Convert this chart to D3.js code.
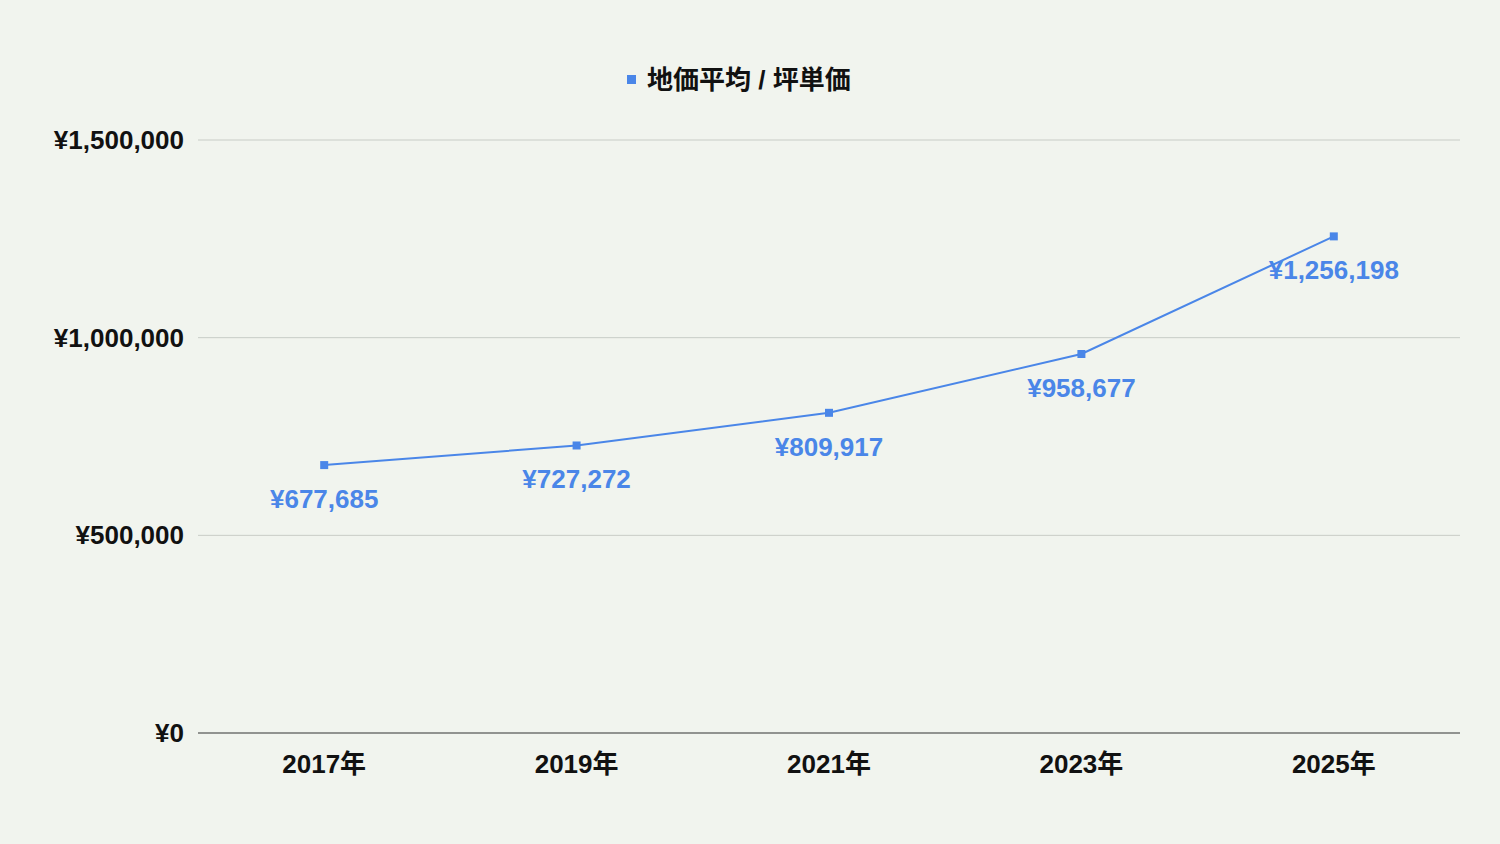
<!DOCTYPE html>
<html><head><meta charset="utf-8">
<script src="https://cdn.jsdelivr.net/npm/d3@7"></script>
<style>
body{margin:0;background:#f1f4ee;}
text{font-family:"Liberation Sans",Arial,"Noto Sans CJK JP",sans-serif;font-weight:bold;}
</style></head><body>
<script>
var years = ["2017年","2019年","2021年","2023年","2025年"];
var prices = [677685,727272,809917,958677,1256198];
var yTicks = [0,500000,1000000,1500000];
var seriesName = "地価平均 / 坪単価";

var width = 1500, height = 844;
var svg = d3.select("body").append("svg").attr("width",width).attr("height",height);

var x = d3.scaleBand().domain(years).range([198,1460]);
var y = d3.scaleLinear().domain([0,1500000]).range([733,140]);
var yen = function(v){ return "¥" + d3.format(",")(v); };

//grid
svg.selectAll(".grid").data(yTicks.filter(function(d){return d>0;})).enter()
  .append("line").attr("x1",198).attr("x2",1460)
  .attr("y1",function(d){return y(d);}).attr("y2",function(d){return y(d);})
  .attr("stroke","#c8ccc6").attr("stroke-width",1);
svg.append("line").attr("x1",198).attr("x2",1460).attr("y1",y(0)).attr("y2",y(0))
  .attr("stroke","#333").attr("stroke-width",1.2);

//y labels
svg.selectAll(".yl").data(yTicks).enter().append("text")
  .attr("x",184).attr("y",function(d){return y(d)+9;})
  .attr("text-anchor","end").attr("font-size",26).attr("fill","#111").text(yen);

//x labels
svg.selectAll(".xl").data(years).enter().append("text")
  .attr("x",function(d){return x(d)+x.bandwidth()/2;}).attr("y",773)
  .attr("text-anchor","middle").attr("font-size",26).attr("fill","#111").text(function(d){return d;});

var cx = function(i){ return x(years[i])+x.bandwidth()/2; };
var line = d3.line().x(function(d,i){return cx(i);}).y(function(d){return y(d);});
svg.append("path").datum(prices).attr("d",line).attr("fill","none")
  .attr("stroke","#4a86e8").attr("stroke-width",2);
svg.selectAll(".pt").data(prices).enter().append("rect")
  .attr("x",function(d,i){return cx(i)-4;}).attr("y",function(d){return y(d)-4;})
  .attr("width",8).attr("height",8).attr("fill","#4a86e8");
svg.selectAll(".lb").data(prices).enter().append("text")
  .attr("x",function(d,i){return cx(i);}).attr("y",function(d){return y(d)+43;})
  .attr("text-anchor","middle").attr("font-size",26).attr("fill","#4a86e8").text(yen);

//legend
svg.append("rect").attr("x",627).attr("y",75).attr("width",9).attr("height",9).attr("fill","#4a86e8");
svg.append("text").attr("x",647).attr("y",89).attr("font-size",26).attr("fill","#111").text(seriesName);
</script></body></html>
